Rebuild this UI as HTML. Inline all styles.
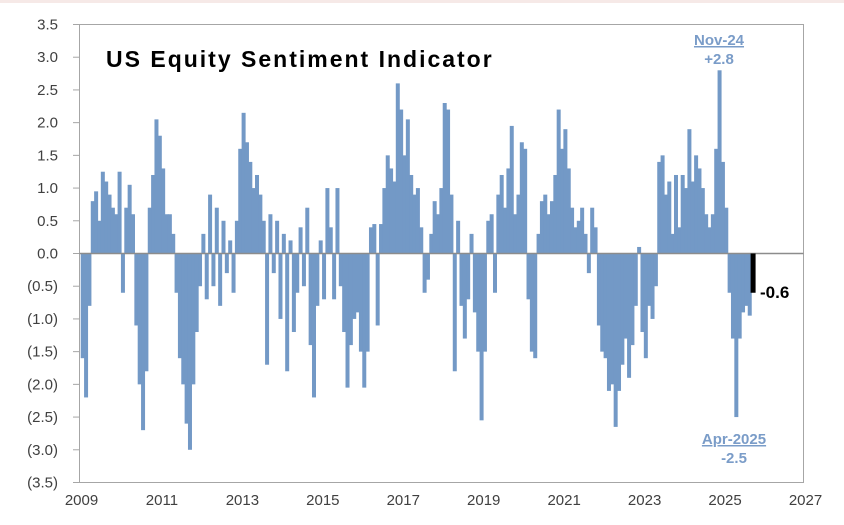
<!DOCTYPE html>
<html><head><meta charset="utf-8"><style>
body{margin:0;background:#fff;width:844px;height:525px;overflow:hidden;font-family:"Liberation Sans",sans-serif}
</style></head><body>
<div style="position:absolute;left:0;top:0;width:844px;height:3px;background:#f6e9e7"></div>
<svg id="chart" width="844" height="525" style="position:absolute;left:0;top:0">
<rect x="79.5" y="24.5" width="724" height="458" fill="none" stroke="#a6a6a6" stroke-width="1"/>
<g id="yaxis"></g>
<g id="xaxis"></g>
<g id="bars"></g>
<text x="106" y="67" font-size="23" font-weight="bold" fill="#000" letter-spacing="1.3" textLength="387" lengthAdjust="spacing">US Equity Sentiment Indicator</text>
<text x="719" y="45" font-size="15" font-weight="bold" fill="#7a9cc8" text-anchor="middle" text-decoration="underline">Nov-24</text>
<text x="719" y="64" font-size="15" font-weight="bold" fill="#7a9cc8" text-anchor="middle">+2.8</text>
<text x="734" y="444" font-size="15" font-weight="bold" fill="#7a9cc8" text-anchor="middle" text-decoration="underline">Apr-2025</text>
<text x="734" y="463" font-size="15" font-weight="bold" fill="#7a9cc8" text-anchor="middle">-2.5</text>
<text x="760" y="298" font-size="17" font-weight="bold" fill="#000">-0.6</text>
</svg>
<script>
const yTicks=[3.5,3,2.5,2,1.5,1,0.5,0,-0.5,-1,-1.5,-2,-2.5,-3,-3.5];
const xTicks=[2009,2011,2013,2015,2017,2019,2021,2023,2025,2027];
const startYear=2009.08;
const values=[-1.6,-2.2,-0.8,0.8,0.95,0.5,1.25,1.1,0.9,0.7,0.6,1.25,-0.6,0.7,1.05,0.6,-1.1,-2.0,-2.7,-1.8,
0.7,1.2,2.05,1.8,1.3,0.6,0.6,0.3,-0.6,-1.6,-2.0,-2.6,-3.0,-2.0,-1.2,-0.5,0.3,-0.7,0.9,-0.5,
0.7,-0.8,0.5,-0.3,0.2,-0.6,0.5,1.6,2.15,1.7,1.4,1.0,1.2,0.9,0.5,-1.7,0.6,-0.3,0.5,-1.0,
0.3,-1.8,0.2,-1.2,-0.6,0.4,-0.5,0.7,-1.4,-2.2,-0.8,0.2,-0.7,1.0,0.4,-0.7,1.0,-0.5,-1.2,-2.05,
-1.4,-1.0,-0.9,-1.5,-2.05,-1.5,0.4,0.45,-1.1,0.45,1.0,1.5,1.3,1.1,2.6,2.2,1.5,2.05,1.2,0.9,
1.0,0.4,-0.6,-0.4,0.3,0.8,0.6,1.0,2.3,2.2,0.9,-1.8,0.5,-0.8,-1.3,-0.7,0.3,-0.9,-1.5,-2.55,
-1.5,0.5,0.6,-0.6,0.9,1.2,0.7,1.3,1.95,0.6,0.9,1.7,1.6,-0.7,-1.5,-1.6,0.3,0.8,0.9,0.6,
0.8,1.2,2.2,1.6,1.9,1.3,0.7,0.4,0.5,0.7,0.3,-0.3,0.7,0.4,-1.1,-1.5,-1.6,-2.1,-2.0,-2.65,
-2.1,-1.7,-1.3,-1.9,-1.4,-0.8,0.1,-1.2,-1.6,-0.8,-1.0,-0.5,1.4,1.5,0.9,1.1,0.3,1.2,0.4,1.2,
1.0,1.9,1.1,1.5,1.3,1.0,0.6,0.4,0.6,1.6,2.8,1.4,0.7,-0.6,-1.3,-2.5,-1.3,-0.9,-0.8,-0.95];
const latest=-0.6;
const X0=79.5,X1=803.5,Y0=24.5,Y1=482.5;
const xs=t=>X0+(t-2009)/(2027-2009)*(X1-X0);
const ys=v=>Y0+(3.5-v)/7*(Y1-Y0);
const NS='http://www.w3.org/2000/svg';
const mk=(tag,attrs,parent)=>{const e=document.createElementNS(NS,tag);for(const k in attrs)e.setAttribute(k,attrs[k]);parent.appendChild(e);return e;};
const ya=document.getElementById('yaxis'),xa=document.getElementById('xaxis'),bg=document.getElementById('bars');
yTicks.forEach(v=>{
  const l=mk('line',{x1:73,x2:X0,y1:ys(v),y2:ys(v),stroke:'#a6a6a6'},ya);
  
  
  const t=mk('text',{x:58,y:ys(v)+5,'font-size':15,fill:'#404040','text-anchor':'end'},ya);
  t.textContent=v<0?'('+Math.abs(v).toFixed(1)+')':v.toFixed(1);
  
  
});
xTicks.forEach(y=>{
  const t=mk('text',{x:xs(y)+2,y:505,'font-size':15,fill:'#404040','text-anchor':'middle'},xa);
  t.textContent=y;
  
  
});
const z=ys(0);
values.forEach((v,i)=>{
  const cx=xs(startYear+i/12);
  const r=mk('rect',{x:cx-2,width:4,y:Math.min(z,ys(v)),height:Math.abs(ys(v)-z),fill:'#7399c6'},bg);
  
  
});
const zl=mk('line',{x1:X0,x2:X1,y1:z,y2:z,stroke:'#8c8c8c','stroke-width':1.5},bg);


const lx=xs(startYear+values.length/12);
const lb=mk('rect',{x:lx-2.5,width:5,y:z,height:ys(latest)-z,fill:'#000'},bg);


</script>
</body></html>
